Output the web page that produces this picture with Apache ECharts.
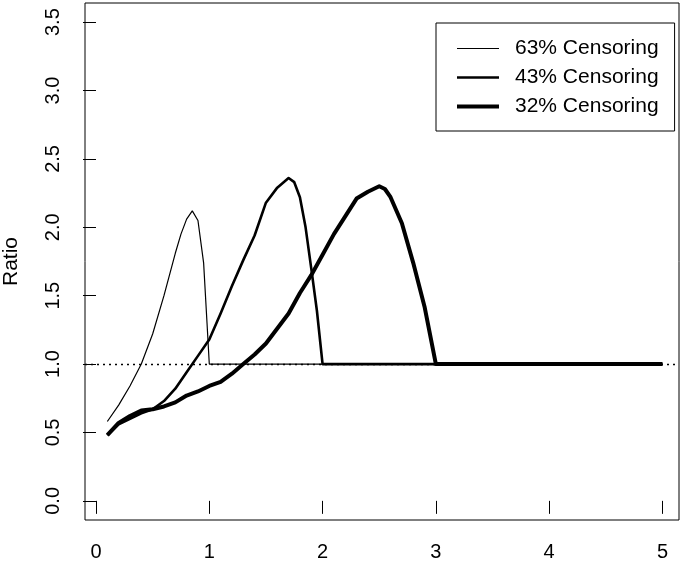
<!DOCTYPE html>
<html style="height: 100%">
<head>
<meta charset="utf-8">
<script src="https://cdn.jsdelivr.net/npm/echarts@6/dist/echarts.min.js"></script>
</head>
<body style="height: 100%; margin: 0; background: #fff">
<div id="container" style="width: 685px; height: 564px"></div>
<script>
// values
var names = ['63% Censoring', '43% Censoring', '32% Censoring'];
var x63 = [0.1, 0.2, 0.3, 0.4, 0.5, 0.6, 0.7, 0.75, 0.8, 0.85, 0.9, 0.95, 0.98, 1.0, 2, 3, 4, 5];
var y63 = [0.58, 0.70, 0.84, 1.00, 1.22, 1.50, 1.81, 1.95, 2.06, 2.12, 2.05, 1.74, 1.30, 1.0, 1.0, 1.0, 1.0, 1.0];
var x43 = [0.1, 0.2, 0.3, 0.4, 0.5, 0.6, 0.7, 0.8, 0.9, 1.0, 1.1, 1.2, 1.3, 1.4, 1.5, 1.6, 1.7, 1.75, 1.8, 1.85, 1.9, 1.95, 2.0, 3, 4, 5];
var y43 = [0.48, 0.56, 0.60, 0.64, 0.67, 0.73, 0.82, 0.94, 1.06, 1.18, 1.37, 1.57, 1.76, 1.94, 2.18, 2.29, 2.36, 2.33, 2.22, 2.00, 1.70, 1.39, 1.0, 1.0, 1.0, 1.0];
var x32 = [0.1, 0.2, 0.3, 0.4, 0.5, 0.6, 0.7, 0.8, 0.9, 1.0, 1.1, 1.2, 1.3, 1.4, 1.5, 1.6, 1.7, 1.8, 1.9, 2.0, 2.1, 2.2, 2.3, 2.4, 2.5, 2.55, 2.6, 2.7, 2.8, 2.9, 3.0, 4, 5];
var y32 = [0.48, 0.57, 0.62, 0.66, 0.67, 0.69, 0.72, 0.77, 0.80, 0.84, 0.87, 0.93, 1.00, 1.07, 1.15, 1.26, 1.37, 1.52, 1.65, 1.80, 1.95, 2.08, 2.21, 2.26, 2.30, 2.28, 2.22, 2.03, 1.74, 1.42, 1.0, 1.0, 1.0];
var xTicks = [0, 1, 2, 3, 4, 5];
var yTicks = [0, 0.5, 1, 1.5, 2, 2.5, 3, 3.5];
var refLine = 1;
var widths = [1.2, 2.6, 4];

function pairs(xs, ys) {
  return xs.map(function (x, i) { return [x, ys[i]]; });
}

var font = 'Liberation Sans, Arial, Helvetica, sans-serif';
var myChart = echarts.init(document.getElementById('container'));
var option = {
  animation: false,
  textStyle: { fontFamily: font, color: '#000' },
  grid: {
    left: 85, top: 3, right: 6, bottom: 44,
    outerBoundsMode: 'none',
    show: true, borderColor: '#000', borderWidth: 1, backgroundColor: 'transparent'
  },
  legend: {
    orient: 'vertical',
    left: 436, top: 23,
    padding: [15, 16, 14, 19],
    borderColor: '#000', borderWidth: 1,
    itemWidth: 42, itemHeight: 18, itemGap: 8,
    itemStyle: { color: 'rgba(0,0,0,0)', borderWidth: 0, opacity: 0 },
    data: names.map(function (n, i) {
      return { name: n, lineStyle: { width: widths[i], color: '#000' } };
    }),
    textStyle: { fontSize: 21, color: '#000', fontFamily: font, padding: [0, 0, 0, 11] }
  },
  xAxis: {
    type: 'value', min: -0.097, max: 5.146,
    axisLine: { show: false },
    splitLine: { show: false },
    axisTick: { show: true, inside: false, length: 13, customValues: xTicks, lineStyle: { color: '#000' } },
    axisLabel: { customValues: xTicks, margin: 22, fontSize: 20, color: '#000', fontFamily: font }
  },
  yAxis: {
    type: 'value', min: -0.14, max: 3.64,
    name: 'Ratio', nameLocation: 'middle', nameGap: 63, nameRotate: 90,
    nameTextStyle: { fontSize: 21, color: '#000', fontFamily: font },
    axisLine: { show: false },
    splitLine: { show: false },
    axisTick: { show: true, inside: false, length: 13, customValues: yTicks, lineStyle: { color: '#000' } },
    axisLabel: {
      customValues: yTicks, rotate: 90, margin: 22, fontSize: 20, color: '#000', fontFamily: font,
      formatter: function (v) { return v.toFixed(1); }
    }
  },
  series: [
    {
      name: names[0], type: 'line', symbol: 'none', data: pairs(x63, y63),
      lineStyle: { color: '#000', width: widths[0] }, itemStyle: { color: '#000' },
      markLine: {
        silent: true, symbol: 'none', label: { show: false },
        lineStyle: { color: '#000', type: [2, 4], width: 1.3 },
        data: [{ yAxis: refLine }]
      }
    },
    {
      name: names[1], type: 'line', symbol: 'none', data: pairs(x43, y43),
      lineStyle: { color: '#000', width: widths[1], join: 'round' }, itemStyle: { color: '#000' }
    },
    {
      name: names[2], type: 'line', symbol: 'none', data: pairs(x32, y32),
      lineStyle: { color: '#000', width: widths[2], join: 'round' }, itemStyle: { color: '#000' }
    }
  ]
};
myChart.setOption(option);
</script>
</body>
</html>
